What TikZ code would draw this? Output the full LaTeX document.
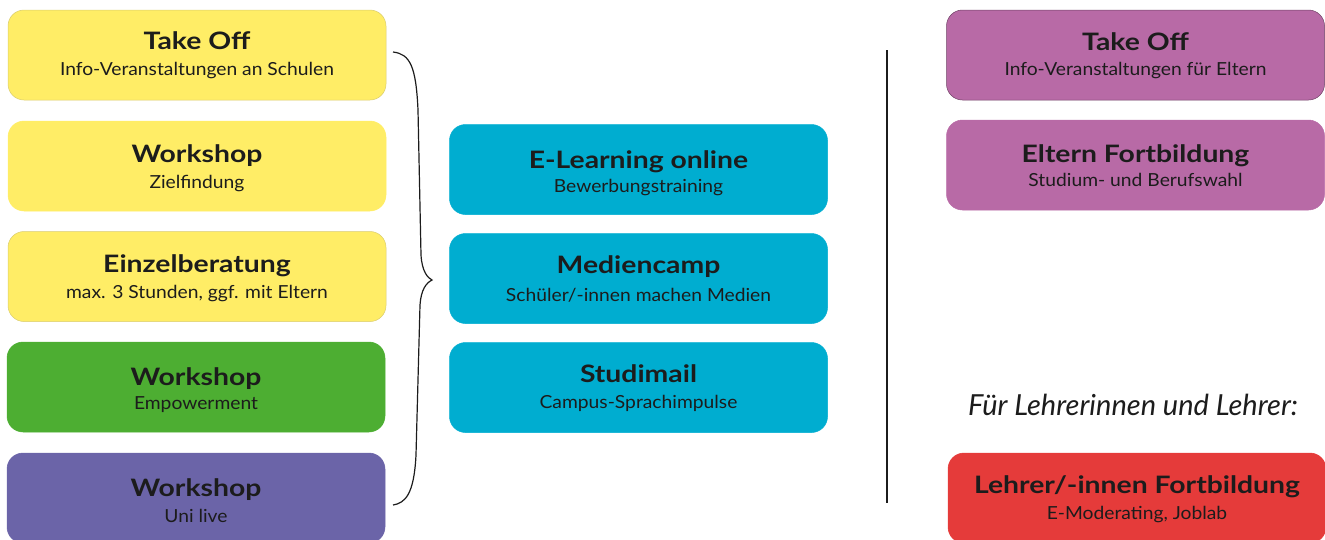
\documentclass[tikz,border=0pt]{standalone}
\usepackage{fontspec}
\setmainfont{Lato}
\newfontfamily\ttlfont[FakeStretch=1.18]{Lato}
\newfontfamily\subfont[FakeStretch=1.07]{Lato}
\definecolor{ylw}{HTML}{FFED66}
\definecolor{grn}{HTML}{4DAE32}
\definecolor{prp}{HTML}{6B64A8}
\definecolor{cyn}{HTML}{00ADD0}
\definecolor{mag}{HTML}{B86AA6}
\definecolor{rd}{HTML}{E53B3A}
\definecolor{txt}{HTML}{1C1C1C}
\tikzset{
  box/.style={rounded corners=16pt, minimum width=378pt, minimum height=90pt, inner sep=0pt, line width=0.5pt},
  ttl/.style={anchor=base, text=txt, font=\ttlfont\fontsize{24}{26}\selectfont\bfseries, inner sep=0pt},
  sub/.style={anchor=base, text=txt, font=\subfont\fontsize{18}{20}\selectfont, inner sep=0pt},
  note/.style={anchor=base, text=txt, font=\fontsize{29}{31}\selectfont\itshape, inner sep=0pt},
  rule/.style={line width=1.1pt, draw=txt}
}
\begin{document}
\begin{tikzpicture}[x=1pt,y=-1pt]
\useasboundingbox (0,0) rectangle (1325,539);
\clip (0,0) rectangle (1325,539);
% left column
\node[box, fill=ylw, draw=ylw!70!gray] (l1) at (197,55) {};
\node[ttl] (l1t) at ([yshift=6pt]l1.center) {Take Off};
\node[sub] (l1s) at ([yshift=-20pt]l1.center) {Info-Veranstaltungen an Schulen};
\node[box, fill=ylw, draw=ylw] (l2) at (197,166) {};
\node[ttl] (l2t) at ([yshift=4pt]l2.center) {Workshop};
\node[sub] (l2s) at ([yshift=-22pt]l2.center) {Zielfindung};
\node[box, fill=ylw, draw=ylw!70!gray] (l3) at (197,276.5) {};
\node[ttl] (l3t) at ([yshift=4pt]l3.center) {Einzelberatung};
\node[sub] (l3s) at ([yshift=-22pt]l3.center) {max. 3 Stunden, ggf. mit Eltern};
\node[box, fill=grn, draw=grn] (l4) at (196,387) {};
\node[ttl] (l4t) at ([yshift=2pt]l4.center) {Workshop};
\node[sub] (l4s) at ([yshift=-22pt]l4.center) {Empowerment};
\node[box, fill=prp, draw=prp] (l5) at (196,498) {};
\node[ttl] (l5t) at ([yshift=2pt]l5.center) {Workshop};
\node[sub] (l5s) at ([yshift=-24pt]l5.center) {Uni live};
% middle column
\node[box, fill=cyn, draw=cyn] (m1) at (638.5,169.5) {};
\node[ttl] (m1t) at ([yshift=1pt]m1.center) {E-Learning online};
\node[sub] (m1s) at ([yshift=-23pt]m1.center) {Bewerbungstraining};
\node[box, fill=cyn, draw=cyn] (m2) at (638.5,278.5) {};
\node[ttl] (m2t) at ([yshift=5pt]m2.center) {Mediencamp};
\node[sub] (m2s) at ([yshift=-23pt]m2.center) {Schüler/-innen machen Medien};
\node[box, fill=cyn, draw=cyn] (m3) at (638.5,387.5) {};
\node[ttl] (m3t) at ([yshift=5pt]m3.center) {Studimail};
\node[sub] (m3s) at ([yshift=-21pt]m3.center) {Campus-Sprachimpulse};
% right column
\node[box, fill=mag, draw=mag!60!black] (r1) at (1135.5,55) {};
\node[ttl] (r1t) at ([yshift=5pt]r1.center) {Take Off};
\node[sub] (r1s) at ([yshift=-20pt]r1.center) {Info-Veranstaltungen für Eltern};
\node[box, fill=mag, draw=mag] (r2) at (1135.5,165) {};
\node[ttl] (r2t) at ([yshift=3pt]r2.center) {Eltern Fortbildung};
\node[sub] (r2s) at ([yshift=-21pt]r2.center) {Studium- und Berufswahl};
\node[note] (rn) at (1133,415) {Für Lehrerinnen und Lehrer:};
\node[box, fill=rd, draw=rd] (r3) at (1137,498) {};
\node[ttl] (r3t) at ([yshift=5pt]r3.center) {Lehrer/-innen Fortbildung};
\node[sub] (r3s) at ([yshift=-21pt]r3.center) {E-Moderating, Joblab};
% brace
\coordinate (bt) at (393,52);
\coordinate (bm) at (432,280);
\coordinate (bb) at (393,505);
\draw[rule, line width=1.2pt] (bt) .. controls (410,54) and (416,66) .. (418,110) -- (421,255) .. controls (422,272) and (428,278) .. (bm) .. controls (426,283) and (421,290) .. (420,305) -- (416,455) .. controls (414,495) and (405,503) .. (bb);
% divider
\coordinate (v1) at (887,50);
\coordinate (v2) at (887,503);
\draw[rule] (v1) -- (v2);
\end{tikzpicture}
\end{document}
